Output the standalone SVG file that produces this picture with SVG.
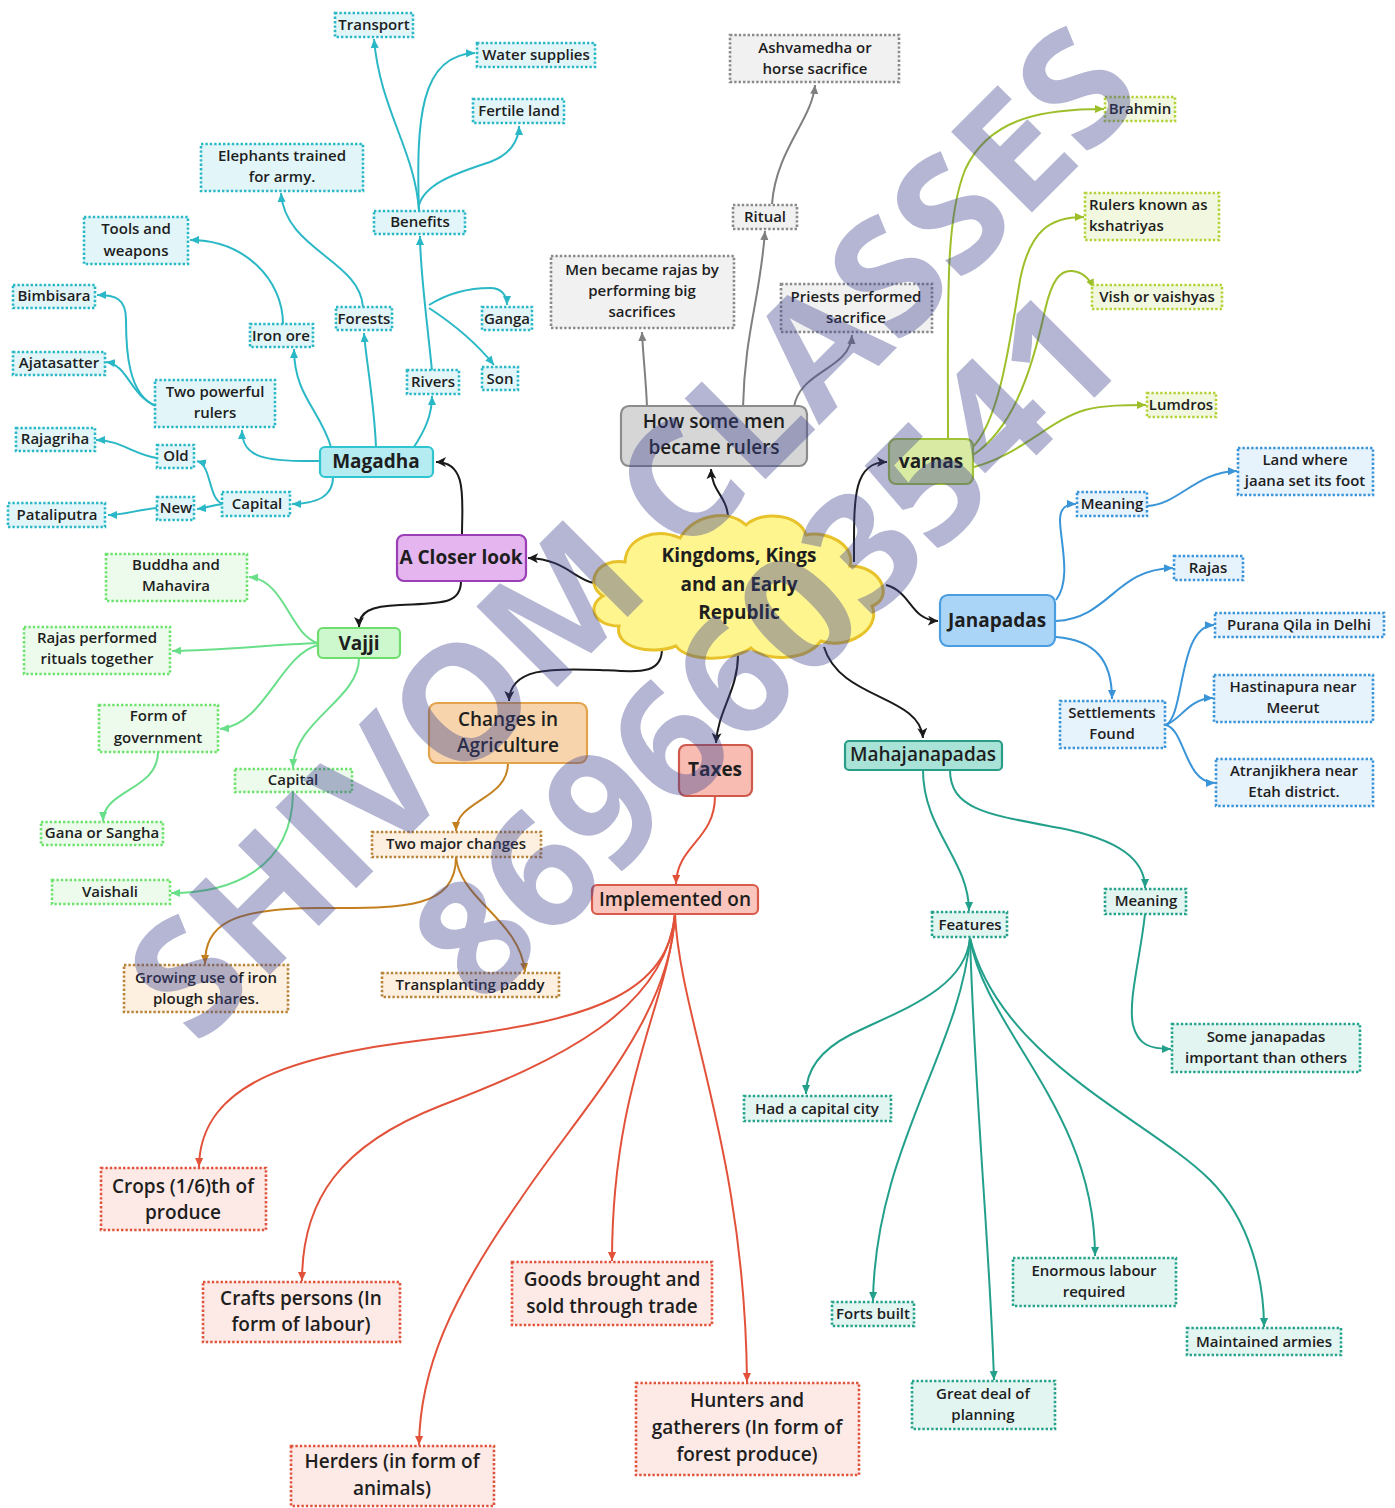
<svg xmlns="http://www.w3.org/2000/svg" width="1395" height="1508" viewBox="0 0 1395 1508">
<style>
text{font-family:"Open Sans","Noto Sans","Liberation Sans",sans-serif;fill:#1e1e1e;text-anchor:middle}
.s{font-size:15px;font-weight:600}
.m{font-size:19px;font-weight:600}
.h{font-size:19px;font-weight:700}
.lf{stroke-width:2.6;stroke-dasharray:2.4 2}
.teal rect{fill:#e2f6f9;stroke:#2bb8c6}
.gray rect{fill:#f1f1f1;stroke:#8a8a8a}
.yg rect{fill:#f2f8df;stroke:#b4d33a}
.blue rect{fill:#e6f2fc;stroke:#3a94d8}
.grn rect{fill:#ecfbec;stroke:#6ee26e}
.brn rect{fill:#fdf0e0;stroke:#b8843a}
.red rect{fill:#fde9e5;stroke:#e0533d}
.tg rect{fill:#e3f5f1;stroke:#27a38d}
.main{stroke-width:2.2}
.wm{font-size:160px;font-weight:700;fill:#3f4591}
</style>
<defs>
<marker id="mk" viewBox="0 0 10 10" refX="10" refY="5" markerWidth="10" markerHeight="10" markerUnits="userSpaceOnUse" orient="auto"><path d="M0,0 L10,5 L0,10 L2.5,5 Z" fill="#1a1a1a"/></marker>
<marker id="mt" viewBox="0 0 10 10" refX="10" refY="5" markerWidth="9" markerHeight="9" markerUnits="userSpaceOnUse" orient="auto"><path d="M0,0.5 L10,5 L0,9.5 Z" fill="#2bb8c6"/></marker>
<marker id="mg" viewBox="0 0 10 10" refX="10" refY="5" markerWidth="9" markerHeight="9" markerUnits="userSpaceOnUse" orient="auto"><path d="M0,0.5 L10,5 L0,9.5 Z" fill="#7f7f7f"/></marker>
<marker id="my" viewBox="0 0 10 10" refX="10" refY="5" markerWidth="9" markerHeight="9" markerUnits="userSpaceOnUse" orient="auto"><path d="M0,0.5 L10,5 L0,9.5 Z" fill="#9cbf2a"/></marker>
<marker id="mb" viewBox="0 0 10 10" refX="10" refY="5" markerWidth="9" markerHeight="9" markerUnits="userSpaceOnUse" orient="auto"><path d="M0,0.5 L10,5 L0,9.5 Z" fill="#3a94d8"/></marker>
<marker id="mgr" viewBox="0 0 10 10" refX="10" refY="5" markerWidth="9" markerHeight="9" markerUnits="userSpaceOnUse" orient="auto"><path d="M0,0.5 L10,5 L0,9.5 Z" fill="#6adf8a"/></marker>
<marker id="mbr" viewBox="0 0 10 10" refX="10" refY="5" markerWidth="9" markerHeight="9" markerUnits="userSpaceOnUse" orient="auto"><path d="M0,0.5 L10,5 L0,9.5 Z" fill="#c4801e"/></marker>
<marker id="mr" viewBox="0 0 10 10" refX="10" refY="5" markerWidth="9" markerHeight="9" markerUnits="userSpaceOnUse" orient="auto"><path d="M0,0.5 L10,5 L0,9.5 Z" fill="#e2523a"/></marker>
<marker id="mtg" viewBox="0 0 10 10" refX="10" refY="5" markerWidth="9" markerHeight="9" markerUnits="userSpaceOnUse" orient="auto"><path d="M0,0.5 L10,5 L0,9.5 Z" fill="#23a08b"/></marker>
</defs>
<rect width="1395" height="1508" fill="#ffffff"/>

<g id="connectors">
<g stroke="#1a1a1a" fill="none" stroke-width="2" marker-end="url(#mk)">
<path d="M728,516 C726,495 712,492 711,469"/>
<path d="M594,583 C575,580 565,559 528,558"/>
<path d="M462,535 C462,500 468,462 436,462"/>
<path d="M461,581 C461,605 440,603 400,605 C370,606 359,612 359,627"/>
<path d="M662,647 C663,675 640,672 600,670 C550,668 510,668 509,701"/>
<path d="M738,655 C738,690 718,710 716,743"/>
<path d="M824,647 C840,700 920,695 923,738"/>
<path d="M854,562 C854,500 852,462 887,462"/>
<path d="M886,585 C912,592 910,620 938,621"/>
</g>
<g stroke="#2bb8c6" fill="none" stroke-width="2" marker-end="url(#mt)">
<path d="M320,461 C265,462 242,458 242,430"/>
<path d="M333,477 C333,497 315,504 292,504"/>
<path d="M331,447 C320,410 294,395 294,349"/>
<path d="M376,447 C374,400 366,360 364,333"/>
<path d="M414,447 C425,430 432,415 432,396"/>
<path d="M432,371 C427,320 420,270 420,236"/>
<path d="M429,305 C450,292 470,288 490,288 C502,288 507,296 507,305"/>
<path d="M429,308 C455,325 478,345 494,365"/>
<path d="M419,211 C415,150 380,110 374,39"/>
<path d="M419,211 C416,120 420,55 475,53"/>
<path d="M419,205 C425,185 450,175 490,162 C510,155 519,140 519,126"/>
<path d="M363,307 C360,260 285,250 281,193"/>
<path d="M283,324 C283,280 245,240 190,240"/>
<path d="M156,406 C128,395 126,350 126,320 C126,298 115,295 97,295"/>
<path d="M156,406 C130,395 128,365 106,362"/>
<path d="M223,504 C208,500 212,465 197,461"/>
<path d="M223,504 C212,505 206,508 197,509"/>
<path d="M157,458 C135,455 120,440 96,440"/>
<path d="M157,508 C135,510 125,515 108,515"/>
</g>
<g stroke="#7f7f7f" fill="none" stroke-width="2" marker-end="url(#mg)">
<path d="M647,407 C646,380 643,355 642,332"/>
<path d="M743,407 C745,330 760,300 765,231"/>
<path d="M772,204 C776,150 812,120 815,85"/>
<path d="M794,407 C800,370 850,370 852,335"/>
</g>
<g stroke="#9cbf2a" fill="none" stroke-width="2" marker-end="url(#my)">
<path d="M948,440 C948,300 945,220 965,170 C990,115 1050,109 1104,109"/>
<path d="M972,448 C1000,420 1010,340 1020,280 C1030,230 1050,217 1084,217"/>
<path d="M973,455 C1010,430 1030,380 1045,310 C1052,280 1060,270 1072,271 C1084,272 1090,280 1094,288"/>
<path d="M974,467 C1020,455 1050,420 1085,410 C1105,405 1125,405 1146,405"/>
</g>
<g stroke="#3a94d8" fill="none" stroke-width="2" marker-end="url(#mb)">
<path d="M1056,600 C1072,580 1060,540 1060,520 C1060,508 1066,504 1076,504"/>
<path d="M1147,506 C1180,504 1195,472 1237,471"/>
<path d="M1056,621 C1110,618 1115,569 1173,568"/>
<path d="M1056,637 C1095,640 1112,660 1112,699"/>
<path d="M1166,725 C1185,715 1178,626 1214,625"/>
<path d="M1166,725 C1180,720 1190,698 1213,698"/>
<path d="M1166,725 C1185,730 1185,783 1215,783"/>
</g>
<g stroke="#6adf8a" fill="none" stroke-width="2" marker-end="url(#mgr)">
<path d="M318,643 C290,635 285,580 249,577"/>
<path d="M318,643 C270,645 220,650 172,651"/>
<path d="M318,645 C280,655 265,725 220,729"/>
<path d="M359,658 C359,700 294,720 293,768"/>
<path d="M158,752 C158,790 103,790 103,821"/>
<path d="M293,793 C292,870 230,893 171,893"/>
</g>
<g stroke="#c4801e" fill="none" stroke-width="2" marker-end="url(#mbr)">
<path d="M508,763 C508,800 456,800 456,831"/>
<path d="M456,857 C456,910 400,908 320,908 C230,908 205,925 205,964"/>
<path d="M456,857 C460,900 520,920 525,972"/>
</g>
<g stroke="#e2523a" fill="none" stroke-width="2" marker-end="url(#mr)">
<path d="M715,796 C715,840 677,845 676,884"/>
<path d="M675,914 C668,990 600,1020 440,1038 C300,1054 200,1080 199,1167"/>
<path d="M675,914 C665,1010 560,1060 440,1106 C340,1145 302,1200 302,1281"/>
<path d="M675,914 C670,1020 580,1110 520,1200 C450,1300 420,1370 419,1445"/>
<path d="M675,914 C670,1000 612,1080 612,1261"/>
<path d="M675,914 C680,1020 745,1150 747,1382"/>
</g>
<g stroke="#23a08b" fill="none" stroke-width="2" marker-end="url(#mtg)">
<path d="M923,770 C923,830 969,860 969,911"/>
<path d="M950,770 C950,810 990,815 1060,828 C1120,840 1145,860 1145,888"/>
<path d="M1145,914 C1140,960 1128,1000 1133,1025 C1138,1045 1150,1049 1171,1049"/>
<path d="M970,938 C965,990 900,1010 850,1035 C815,1053 806,1075 806,1094"/>
<path d="M970,938 C960,1050 875,1150 873,1301"/>
<path d="M970,938 C975,1100 990,1250 994,1380"/>
<path d="M970,938 C985,1030 1095,1110 1095,1256"/>
<path d="M970,938 C1000,1060 1150,1120 1210,1180 C1250,1220 1264,1280 1264,1327"/>
</g>
</g>

<g id="center">
<path d="M603,596 C584,584 596,558 625,562 C626,538 655,527 680,538 C694,515 728,508 746,525 C762,510 800,514 806,535 C828,530 856,546 850,566 C882,566 894,598 872,606 C882,630 846,650 821,641 C806,661 766,662 751,648 C732,662 687,662 676,646 C650,656 614,647 619,626 C594,626 586,606 603,596 Z" fill="#fff58f" stroke="#e8c22a" stroke-width="3"/>
<text class="h" x="739" y="562">Kingdoms, Kings</text>
<text class="h" x="739" y="591">and an Early</text>
<text class="h" x="739" y="619">Republic</text>
</g>

<g id="how-some-men"><rect x="621" y="406" width="186" height="60" rx="8" fill="#d6d6d6" stroke="#8c8c8c" class="main"/><text class="m" x="714" y="428">How some men</text><text class="m" x="714" y="454">became rulers</text></g>
<g id="closer-look"><rect x="397" y="535" width="129" height="46" rx="7" fill="#e4b5ee" stroke="#9a3fb6" class="main"/><text class="h" x="461" y="564">A Closer look</text></g>
<g id="magadha"><rect x="320" y="447" width="113" height="30" rx="5" fill="#b4ecf2" stroke="#2ec4d0" class="main"/><text class="h" x="376" y="468">Magadha</text></g>
<g id="varnas"><rect x="889" y="439" width="84" height="45" rx="7" fill="#d9eaa2" stroke="#a2c23a" class="main"/><text class="h" x="931" y="468">varnas</text></g>
<g id="janapadas"><rect x="940" y="595" width="115" height="51" rx="8" fill="#abd5f7" stroke="#4a9de0" class="main"/><text class="h" x="997" y="627">Janapadas</text></g>
<g id="vajji"><rect x="318" y="628" width="82" height="30" rx="5" fill="#cdf7cd" stroke="#6edd6e" class="main"/><text class="h" x="359" y="650">Vajji</text></g>
<g id="changes"><rect x="429" y="703" width="158" height="60" rx="8" fill="#f7d4ac" stroke="#e3a24c" class="main"/><text class="m" x="508" y="726">Changes in</text><text class="m" x="508" y="752">Agriculture</text></g>
<g id="taxes"><rect x="679" y="745" width="73" height="51" rx="7" fill="#f8bcb3" stroke="#cf5a4c" class="main"/><text class="h" x="715" y="776">Taxes</text></g>
<g id="implemented"><rect x="592" y="885" width="166" height="29" rx="5" fill="#f9c5bc" stroke="#d9594a" class="main"/><text class="m" x="675" y="906">Implemented on</text></g>
<g id="mahajanapadas"><rect x="845" y="741" width="157" height="29" rx="4" fill="#a9e2d6" stroke="#2a9d86" class="main"/><text class="m" x="923" y="761">Mahajanapadas</text></g>

<g class="teal">
<g id="transport"><rect class="lf" x="335" y="13" width="78" height="24"/><text class="s" x="374" y="30">Transport</text></g>
<g id="water"><rect class="lf" x="477" y="43" width="118" height="24"/><text class="s" x="536" y="60">Water supplies</text></g>
<g id="fertile"><rect class="lf" x="473" y="99" width="91" height="24"/><text class="s" x="519" y="116">Fertile land</text></g>
<g id="elephants"><rect class="lf" x="201" y="144" width="162" height="47"/><text class="s" x="282" y="161">Elephants trained</text><text class="s" x="282" y="182">for army.</text></g>
<g id="benefits"><rect class="lf" x="374" y="211" width="91" height="23"/><text class="s" x="420" y="227">Benefits</text></g>
<g id="tools"><rect class="lf" x="84" y="217" width="104" height="47"/><text class="s" x="136" y="234">Tools and</text><text class="s" x="136" y="256">weapons</text></g>
<g id="bimbisara"><rect class="lf" x="13" y="285" width="82" height="23"/><text class="s" x="54" y="301">Bimbisara</text></g>
<g id="ajatasatter"><rect class="lf" x="13" y="352" width="92" height="23"/><text class="s" x="59" y="368">Ajatasatter</text></g>
<g id="iron-ore"><rect class="lf" x="250" y="324" width="63" height="23"/><text class="s" x="281" y="341">Iron ore</text></g>
<g id="forests"><rect class="lf" x="336" y="307" width="56" height="23"/><text class="s" x="364" y="324">Forests</text></g>
<g id="ganga"><rect class="lf" x="482" y="307" width="50" height="23"/><text class="s" x="507" y="324">Ganga</text></g>
<g id="son"><rect class="lf" x="482" y="367" width="36" height="23"/><text class="s" x="500" y="384">Son</text></g>
<g id="rivers"><rect class="lf" x="407" y="370" width="52" height="24"/><text class="s" x="433" y="387">Rivers</text></g>
<g id="two-rulers"><rect class="lf" x="155" y="380" width="120" height="47"/><text class="s" x="215" y="397">Two powerful</text><text class="s" x="215" y="418">rulers</text></g>
<g id="rajagriha"><rect class="lf" x="16" y="428" width="79" height="23"/><text class="s" x="55" y="444">Rajagriha</text></g>
<g id="old"><rect class="lf" x="157" y="445" width="37" height="23"/><text class="s" x="176" y="461">Old</text></g>
<g id="new"><rect class="lf" x="157" y="497" width="37" height="23"/><text class="s" x="176" y="513">New</text></g>
<g id="capital-m"><rect class="lf" x="222" y="492" width="68" height="24"/><text class="s" x="257" y="509">Capital</text></g>
<g id="pataliputra"><rect class="lf" x="8" y="503" width="97" height="24"/><text class="s" x="57" y="520">Pataliputra</text></g>
</g>

<g class="gray">
<g id="ashvamedha"><rect class="lf" x="730" y="35" width="169" height="47"/><text class="s" x="815" y="53">Ashvamedha or</text><text class="s" x="815" y="74">horse sacrifice</text></g>
<g id="ritual"><rect class="lf" x="733" y="205" width="64" height="24"/><text class="s" x="765" y="222">Ritual</text></g>
<g id="men-rajas"><rect class="lf" x="551" y="256" width="183" height="72"/><text class="s" x="642" y="275">Men became rajas by</text><text class="s" x="642" y="296">performing big</text><text class="s" x="642" y="317">sacrifices</text></g>
<g id="priests"><rect class="lf" x="781" y="284" width="151" height="48"/><text class="s" x="856" y="302">Priests performed</text><text class="s" x="856" y="323">sacrifice</text></g>
</g>

<g class="yg">
<g id="brahmin"><rect class="lf" x="1105" y="97" width="70" height="24"/><text class="s" x="1140" y="114">Brahmin</text></g>
<g id="kshatriyas"><rect class="lf" x="1085" y="193" width="134" height="47"/><text class="s" x="1089" y="210" style="text-anchor:start">Rulers known as</text><text class="s" x="1089" y="231" style="text-anchor:start">kshatriyas</text></g>
<g id="vaishyas"><rect class="lf" x="1092" y="285" width="130" height="24"/><text class="s" x="1157" y="302">Vish or vaishyas</text></g>
<g id="lumdros"><rect class="lf" x="1147" y="393" width="69" height="24"/><text class="s" x="1181" y="410">Lumdros</text></g>
</g>

<g class="blue">
<g id="land-where"><rect class="lf" x="1238" y="448" width="135" height="47"/><text class="s" x="1305" y="465">Land where</text><text class="s" x="1305" y="486">jaana set its foot</text></g>
<g id="meaning-j"><rect class="lf" x="1077" y="492" width="70" height="24"/><text class="s" x="1112" y="509">Meaning</text></g>
<g id="rajas"><rect class="lf" x="1174" y="556" width="69" height="24"/><text class="s" x="1208" y="573">Rajas</text></g>
<g id="purana"><rect class="lf" x="1215" y="613" width="169" height="24"/><text class="s" x="1299" y="630">Purana Qila in Delhi</text></g>
<g id="hastinapura"><rect class="lf" x="1214" y="675" width="159" height="47"/><text class="s" x="1293" y="692">Hastinapura near</text><text class="s" x="1293" y="713">Meerut</text></g>
<g id="settlements"><rect class="lf" x="1060" y="701" width="105" height="47"/><text class="s" x="1112" y="718">Settlements</text><text class="s" x="1112" y="739">Found</text></g>
<g id="atranjikhera"><rect class="lf" x="1216" y="759" width="157" height="47"/><text class="s" x="1294" y="776">Atranjikhera near</text><text class="s" x="1294" y="797">Etah district.</text></g>
</g>

<g class="grn">
<g id="buddha"><rect class="lf" x="106" y="554" width="141" height="47"/><text class="s" x="176" y="570">Buddha and</text><text class="s" x="176" y="591">Mahavira</text></g>
<g id="rituals"><rect class="lf" x="24" y="627" width="146" height="47"/><text class="s" x="97" y="643">Rajas performed</text><text class="s" x="97" y="664">rituals together</text></g>
<g id="form-gov"><rect class="lf" x="99" y="705" width="119" height="47"/><text class="s" x="158" y="721">Form of</text><text class="s" x="158" y="743">government</text></g>
<g id="capital-v"><rect class="lf" x="235" y="769" width="117" height="23"/><text class="s" x="293" y="785">Capital</text></g>
<g id="gana"><rect class="lf" x="41" y="822" width="122" height="23"/><text class="s" x="102" y="838">Gana or Sangha</text></g>
<g id="vaishali"><rect class="lf" x="52" y="880" width="118" height="24"/><text class="s" x="110" y="897">Vaishali</text></g>
</g>

<g class="brn">
<g id="two-major"><rect class="lf" x="372" y="832" width="169" height="25"/><text class="s" x="456" y="849">Two major changes</text></g>
<g id="iron-plough"><rect class="lf" x="124" y="965" width="164" height="47"/><text class="s" x="206" y="983">Growing use of iron</text><text class="s" x="206" y="1004">plough shares.</text></g>
<g id="paddy"><rect class="lf" x="382" y="973" width="177" height="24"/><text class="s" x="470" y="990">Transplanting paddy</text></g>
</g>

<g class="red">
<g id="crops"><rect class="lf" x="101" y="1168" width="165" height="62"/><text class="m" x="183" y="1193">Crops (1/6)th of</text><text class="m" x="183" y="1219">produce</text></g>
<g id="crafts"><rect class="lf" x="203" y="1282" width="197" height="60"/><text class="m" x="301" y="1305">Crafts persons (In</text><text class="m" x="301" y="1331">form of labour)</text></g>
<g id="goods"><rect class="lf" x="512" y="1262" width="200" height="63"/><text class="m" x="612" y="1286">Goods brought and</text><text class="m" x="612" y="1313">sold through trade</text></g>
<g id="herders"><rect class="lf" x="291" y="1446" width="203" height="60"/><text class="m" x="392" y="1468">Herders (in form of</text><text class="m" x="392" y="1495">animals)</text></g>
<g id="hunters"><rect class="lf" x="636" y="1383" width="223" height="92"/><text class="m" x="747" y="1407">Hunters and</text><text class="m" x="747" y="1434">gatherers (In form of</text><text class="m" x="747" y="1461">forest produce)</text></g>
</g>

<g class="tg">
<g id="meaning-m"><rect class="lf" x="1105" y="889" width="81" height="25"/><text class="s" x="1146" y="906">Meaning</text></g>
<g id="features"><rect class="lf" x="932" y="912" width="75" height="25"/><text class="s" x="970" y="930">Features</text></g>
<g id="some-janapadas"><rect class="lf" x="1172" y="1024" width="188" height="48"/><text class="s" x="1266" y="1042">Some janapadas</text><text class="s" x="1266" y="1063">important than others</text></g>
<g id="capital-city"><rect class="lf" x="744" y="1096" width="147" height="25"/><text class="s" x="817" y="1114">Had a capital city</text></g>
<g id="forts"><rect class="lf" x="832" y="1302" width="82" height="24"/><text class="s" x="873" y="1319">Forts built</text></g>
<g id="labour"><rect class="lf" x="1013" y="1258" width="163" height="48"/><text class="s" x="1094" y="1276">Enormous labour</text><text class="s" x="1094" y="1297">required</text></g>
<g id="armies"><rect class="lf" x="1187" y="1328" width="154" height="27"/><text class="s" x="1264" y="1347">Maintained armies</text></g>
<g id="planning"><rect class="lf" x="912" y="1381" width="143" height="48"/><text class="s" x="983" y="1399">Great deal of</text><text class="s" x="983" y="1420">planning</text></g>
</g>

<g id="watermark" opacity="0.39" transform="translate(632,532) rotate(-45)">
<text class="wm" x="0" y="57">SHIVOM CLASSES</text>
<text class="wm" x="14" y="232">8696603541</text>
</g>
</svg>
